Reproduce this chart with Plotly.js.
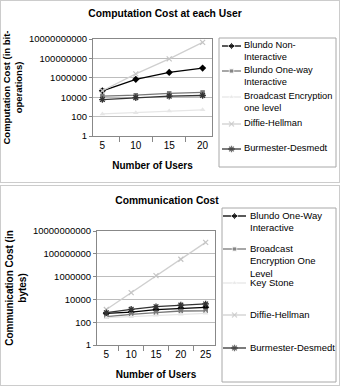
<!DOCTYPE html>
<html><head><meta charset="utf-8">
<script src="https://cdn.plot.ly/plotly-3.0.1.min.js"></script>
<style>
body{margin:0;background:#fff;}
#c1{position:absolute;left:0;top:0;width:338px;height:181px;border:1px solid #ccc;}
#c2{position:absolute;left:0;top:185px;width:338px;height:199px;border:1px solid #ccc;}
</style></head><body>
<div id="c1"></div><div id="c2"></div>
<script>
// ---- Chart 1: Computation Cost at each User ----
var users1 = ['5','10','15','20'];
var blundoNonInteractive1 = [46000, 700000, 3600000, 10000000];
var blundoOneWay1 = [13000, 16000, 25000, 31000];
var broadcastEnc1 = [190, 250, 380, 500];
var diffieHellman1 = [46000, 2500000, 90000000, 4500000000];
var burmester1 = [5700, 9000, 13000, 15000];
var names1 = ['Blundo Non-<br>Interactive', 'Blundo One-way<br>Interactive', 'Broadcast Encryption<br>one level', 'Diffie-Hellman', 'Burmester-Desmedt'];

// ---- Chart 2: Communication Cost ----
var users2 = ['5','10','15','20','25'];
var blundoOneWay2 = [600, 780, 1250, 1650, 2000];
var broadcastEnc2 = [300, 490, 680, 960, 1000];
var keyStone2 = [250, 300, 400, 500, 600];
var diffieHellman2 = [1300, 39000, 1200000, 33000000, 1000000000];
var burmester2 = [680, 1350, 2300, 3200, 4000];
var names2 = ['Blundo One-Way<br>Interactive', 'Broadcast<br>Encryption One<br>Level', 'Key Stone', 'Diffie-Hellman', 'Burmester-Desmedt'];

var yTickVals = [1, 100, 10000, 1000000, 100000000, 10000000000];
var yTickText = ['1', '100', '10000', '1000000', '100000000', '10000000000'];

var FONT = 'Liberation Sans, Arial, sans-serif';
var styles = [
  {line:{color:'#000',width:1.3}, marker:{symbol:'diamond',size:5.5,color:'#000'}},
  {line:{color:'#777',width:1.3}, marker:{symbol:'square',size:4.5,color:'#777'}},
  {line:{color:'#e6e6e6',width:1.3}, marker:{symbol:'triangle-up',size:5,color:'#e6e6e6'}},
  {line:{color:'#cfcfcf',width:1.3}, marker:{symbol:'x-thin-open',size:5,color:'#c4c4c4',line:{width:1.2,color:'#c4c4c4'}}},
  {line:{color:'#333',width:1.3}, marker:{symbol:'asterisk-open',size:5.5,color:'#333',line:{width:1.3,color:'#333'}}}
];

function build(div, W, H, plot, title, ytitle, users, series, names, leg){
  var traces = [];
  var anns = [];
  var shapes = [];
  series.forEach(function(s, i){
    traces.push({x:users, y:s, name:names[i], type:'scatter', mode:'lines+markers',
      line:styles[i].line, marker:styles[i].marker, showlegend:false, xaxis:'x', yaxis:'y'});
  });
  // custom legend drawn on a pixel-space overlay axis
  names.forEach(function(n, i){
    var cy = leg.rows[i];
    var mk = JSON.parse(JSON.stringify(styles[i].marker));
    mk.size = [0, mk.size, 0];
    traces.push({x:[leg.lx0, (leg.lx0+leg.lx1)/2, leg.lx1], y:[cy, cy, cy], type:'scatter', mode:'lines+markers',
      line:styles[i].line, marker:mk, showlegend:false, xaxis:'x2', yaxis:'y2', hoverinfo:'skip', cliponaxis:false});
    anns.push({xref:'x2', yref:'y2', x:leg.tx, y:cy - leg.lh/2 - 1, xanchor:'left', yanchor:'top', align:'left',
      text:n, showarrow:false, borderpad:0, font:{family:FONT, size:leg.fs, color:'#000'}});
  });
  shapes.push({type:'rect', xref:'x2', yref:'y2', x0:leg.bx0, x1:leg.bx1, y0:leg.by0, y1:leg.by1,
    line:{color:'#a8a8a8', width:1}, fillcolor:'rgba(0,0,0,0)', layer:'below'});
  var layout = {
    width:W, height:H, margin:{l:0,r:0,t:0,b:0,pad:0,autoexpand:false},
    paper_bgcolor:'#fff', plot_bgcolor:'rgba(0,0,0,0)', showlegend:false,
    font:{family:FONT,color:'#000'},
    title:{text:'<b>'+title.text+'</b>', font:{family:FONT,size:10.3,color:'#000'}, xref:'container', x:title.x/W, xanchor:'center', yref:'container', y:1-title.y/H, yanchor:'middle'},
    xaxis:{type:'category', domain:[plot.x0/W, plot.x1/W], anchor:'y', showgrid:false, showline:true, linecolor:'#888', linewidth:1, mirror:true,
      ticks:'outside', tickson:'boundaries', ticklen:5, tickcolor:'#888', tickangle:0,
      tickfont:{family:FONT,size:10,color:'#000'},
      title:{text:'<b>Number of Users</b>', font:{family:FONT,size:10,color:'#000'}, standoff:11}},
    yaxis:{type:'log', domain:[1-plot.y1/H, 1-plot.y0/H], anchor:'x', range:[0,10], tickvals:yTickVals, ticktext:yTickText, showgrid:true, gridcolor:'#bdbdbd',
      showline:true, linecolor:'#888', mirror:true, ticks:'outside', ticklen:3, tickcolor:'#888',
      tickfont:{family:FONT,size:9.5,color:'#000'}, zeroline:false,
      title:{text:'<b>'+ytitle.text+'</b>', font:{family:FONT,size:ytitle.fs,color:'#000'}, standoff:4}},
    xaxis2:{domain:[0,1], range:[0,W], anchor:'y2', visible:false, fixedrange:true},
    yaxis2:{domain:[0,1], range:[H,0], anchor:'x2', visible:false, fixedrange:true},
    annotations:anns, shapes:shapes
  };
  Plotly.newPlot(div, traces, layout, {displayModeBar:false, staticPlot:true});
}

build('c1', 338, 181, {x0:92, x1:211, y0:38, y1:135},
  {text:'Computation Cost at each User', x:164, y:12},
  {text:'Computation Cost (in bit-<br>operations)', fs:9.5},
  users1, [blundoNonInteractive1, blundoOneWay1, broadcastEnc1, diffieHellman1, burmester1], names1,
  {bx0:218, bx1:335, by0:37, by1:166, lx0:221, lx1:240, tx:242, fs:9.3, lh:12, rows:[45, 70, 96, 123, 148]});

build('c2', 338, 199, {x0:96, x1:214, y0:45, y1:159},
  {text:'Communication Cost', x:166, y:14},
  {text:'Communication Cost (in<br>bytes)', fs:10},
  users2, [blundoOneWay2, broadcastEnc2, keyStone2, diffieHellman2, burmester2], names2,
  {bx0:221, bx1:335, by0:22, by1:196, lx0:222, lx1:245, tx:248, fs:9.5, lh:12, rows:[30, 63, 97, 129, 162]});
</script></body></html>
